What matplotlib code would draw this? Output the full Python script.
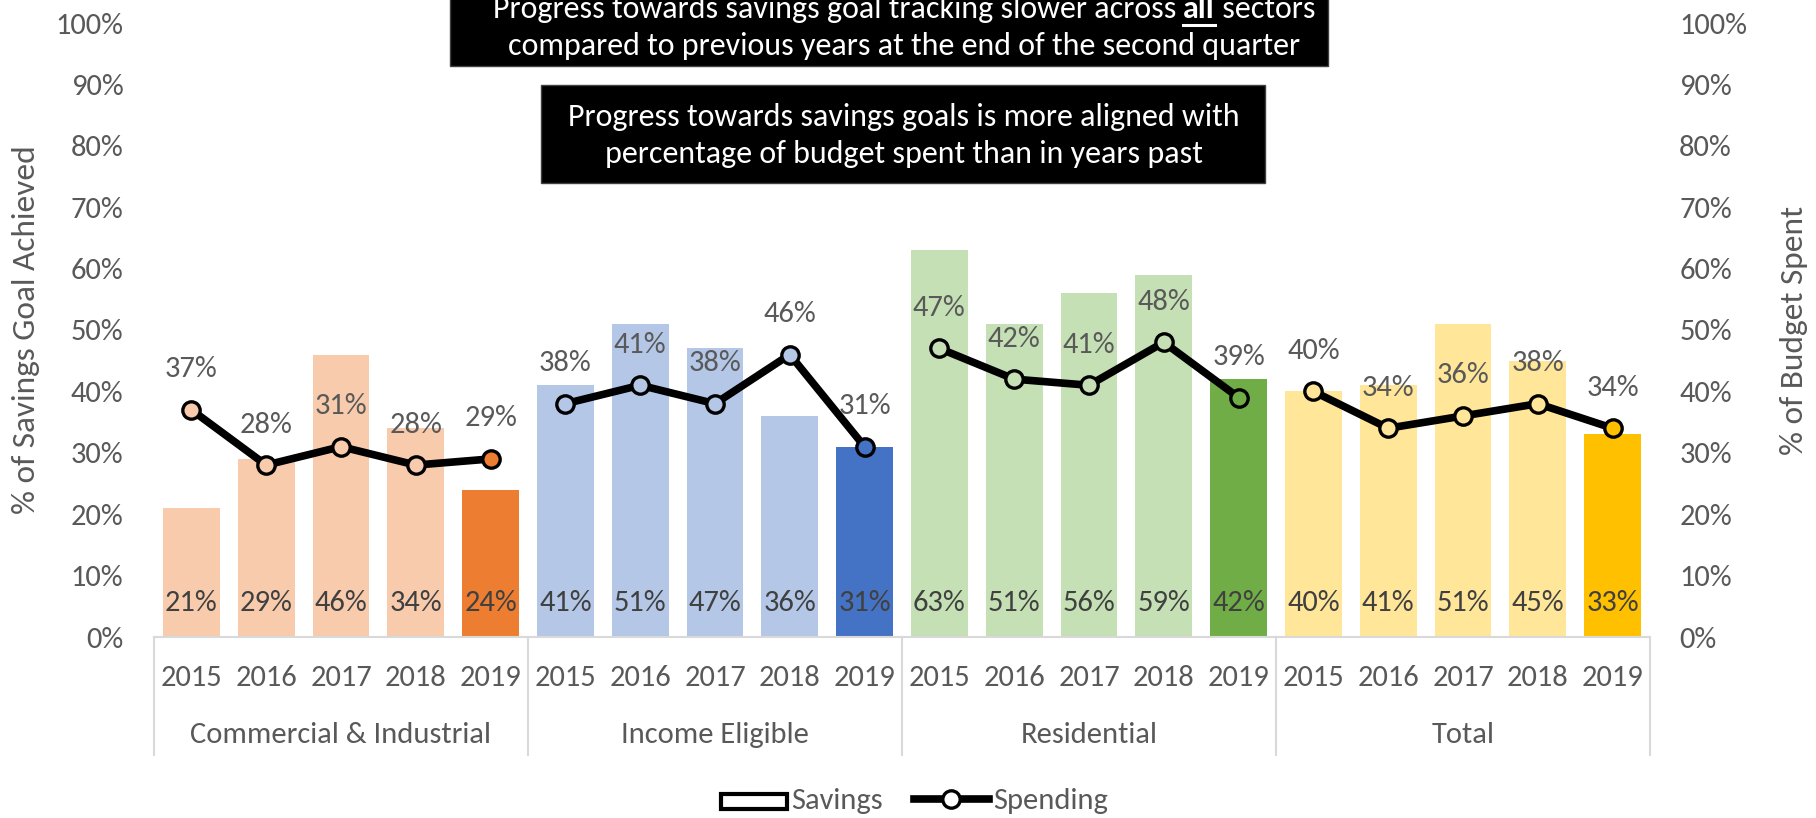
import matplotlib
matplotlib.use("Agg")
import matplotlib.pyplot as plt
from matplotlib import font_manager
from matplotlib.patches import Rectangle, Patch
from matplotlib.lines import Line2D
from matplotlib.legend_handler import HandlerPatch

avail = {f.name for f in font_manager.fontManager.ttflist}
fam = 'DejaVu Sans'
for cand in ['Carlito', 'Liberation Sans Narrow', 'Open Sans']:
    if cand in avail:
        fam = cand
        break
plt.rcParams['font.family'] = [fam, 'DejaVu Sans']

groups = ['Commercial & Industrial', 'Income Eligible', 'Residential', 'Total']
years = ['2015', '2016', '2017', '2018', '2019']
savings = {
    'Commercial & Industrial': [21, 29, 46, 34, 24],
    'Income Eligible': [41, 51, 47, 36, 31],
    'Residential': [63, 51, 56, 59, 42],
    'Total': [40, 41, 51, 45, 33],
}
spending = {
    'Commercial & Industrial': [37, 28, 31, 28, 29],
    'Income Eligible': [38, 41, 38, 46, 31],
    'Residential': [47, 42, 41, 48, 39],
    'Total': [40, 34, 36, 38, 34],
}
light = {'Commercial & Industrial': '#F8CBAD', 'Income Eligible': '#B4C7E7',
         'Residential': '#C5E0B4', 'Total': '#FFE699'}
dark = {'Commercial & Industrial': '#ED7D31', 'Income Eligible': '#4472C4',
        'Residential': '#70AD47', 'Total': '#FFC000'}

W, H = 1816, 818
fig = plt.figure(figsize=(W / 100, H / 100), dpi=100)
L, R, B, T = 154, 1650, 637, 23
ax = fig.add_axes([L / W, 1 - B / H, (R - L) / W, (B - T) / H])
ax2 = ax.twinx()

tc = '#595959'
lc = '#404040'
fs = 22

n = len(years)
for gi, g in enumerate(groups):
    xs = [gi * n + i for i in range(n)]
    cols = [light[g]] * (n - 1) + [dark[g]]
    ax.bar(xs, [v / 100 for v in savings[g]], width=0.76, color=cols, zorder=2)
    for x, v in zip(xs, savings[g]):
        ax.text(x, 0.055, f'{v}%', ha='center', va='center', fontsize=fs, color=lc, zorder=3)
    sp = [v / 100 for v in spending[g]]
    ax2.plot(xs, sp, color='black', lw=5.5, zorder=3, solid_capstyle='round')
    for x, v, c in zip(xs, sp, cols):
        ax2.plot([x], [v], marker='o', ms=12.5, mfc=c, mec='black', mew=2.4, zorder=4, ls='none')
        ax2.text(x, v + 0.066, f'{round(v*100)}%', ha='center', va='center', fontsize=fs, color=tc, zorder=5)

for a, pad in ((ax, 22), (ax2, 21)):
    a.set_ylim(0, 1)
    a.set_xlim(-0.5, len(groups) * n - 0.5)
    a.set_yticks([i / 10 for i in range(11)])
    a.set_yticklabels([f'{i*10}%' for i in range(11)])
    for s in a.spines.values():
        s.set_visible(False)
    a.tick_params(axis='y', length=0, labelsize=fs, labelcolor=tc, pad=pad)

ax.spines['bottom'].set_visible(True)
ax.spines['bottom'].set_color('#D9D9D9')
ax.spines['bottom'].set_linewidth(1.5)
ax.set_xticks(range(len(groups) * n))
ax.set_xticklabels(years * len(groups))
ax.tick_params(axis='x', length=0, labelsize=fs, labelcolor=tc, pad=20)

ax.set_ylabel('% of Savings Goal Achieved', fontsize=24, color=tc)
ax.yaxis.set_label_coords((40 - L) / (R - L), 0.5)
ax2.set_ylabel('% of Budget Spent', fontsize=24, color=tc, rotation=90)
ax2.yaxis.set_label_coords((1780 - L) / (R - L), 0.5)

tr = ax.get_xaxis_transform()
ah = B - T
for gi, g in enumerate(groups):
    ax.text(gi * n + (n - 1) / 2, -98 / ah, g, transform=tr, ha='center', va='center',
            fontsize=fs, color=tc, clip_on=False)
for k in range(len(groups) + 1):
    ax.add_line(Line2D([k * n - 0.5] * 2, [0, -118 / ah], transform=tr, color='#D9D9D9',
                       lw=1.5, clip_on=False))


# legend
def small_box(legend, orig_handle, xdescent, ydescent, width, height, fontsize):
    w = width * 0.87
    return Rectangle((-xdescent + width - w, -ydescent + height * 0.0), w, height * 0.72,
                     facecolor='white', edgecolor='black', lw=3)


handles = [Patch(facecolor='white', edgecolor='black', lw=3),
           Line2D([], [], color='black', lw=5.5, marker='o', ms=12.5, mfc='white', mec='black', mew=2.4)]
fig.legend(handles, ['Savings', 'Spending'], loc='center', bbox_to_anchor=(910 / W, 1 - 801 / H),
           ncol=2, frameon=False, fontsize=fs, labelcolor=tc, handlelength=2.45, handletextpad=0.16,
           columnspacing=1.0,
           handler_map={Patch: HandlerPatch(patch_func=small_box)})

# text boxes
box_fs = 23
fig.patches.append(Rectangle((450 / W, 1 - 66 / H), (1328 - 450) / W, 80 / H,
                             transform=fig.transFigure, facecolor='black', edgecolor='#404040', zorder=10))
fig.patches.append(Rectangle((541 / W, 1 - 183 / H), (1265 - 541) / W, 98 / H,
                             transform=fig.transFigure, facecolor='black', edgecolor='#404040', zorder=10))

tcx = 904
fig.canvas.draw()
rend = fig.canvas.get_renderer()
parts = [('Progress towards savings goal tracking slower across ', 'normal'),
         ('all', 'bold'), (' sectors', 'normal')]
texts = []
for s, w in parts:
    t = fig.text(0, 1 - 9 / H, s, fontsize=box_fs, color='white', fontweight=w,
                 ha='left', va='center', zorder=11)
    texts.append(t)
widths = [t.get_window_extent(rend).width for t in texts]
x0 = (tcx - sum(widths) / 2)
cx = x0
for t, wd in zip(texts, widths):
    t.set_x(cx / W)
    cx += wd
ux0 = x0 + widths[0]
fig.add_artist(Line2D([ux0 / W, (ux0 + widths[1]) / W], [1 - 25 / H] * 2, color='white', lw=2.2,
                      transform=fig.transFigure, zorder=11))
fig.text(tcx / W, 1 - 46 / H, 'compared to previous years at the end of the second quarter',
         fontsize=box_fs, color='white', ha='center', va='center', zorder=11)
fig.text(tcx / W, 1 - 117 / H, 'Progress towards savings goals is more aligned with',
         fontsize=box_fs, color='white', ha='center', va='center', zorder=11)
fig.text(tcx / W, 1 - 154 / H, 'percentage of budget spent than in years past',
         fontsize=box_fs, color='white', ha='center', va='center', zorder=11)

fig.savefig('out.png', dpi=100)
